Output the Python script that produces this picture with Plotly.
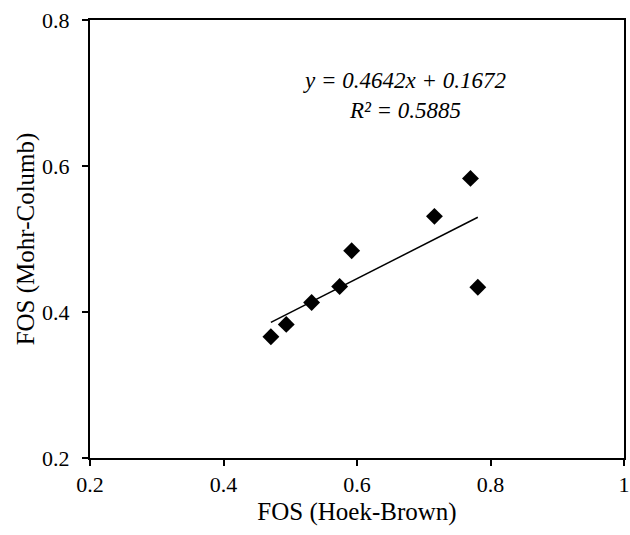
import plotly.graph_objects as go

fos_hoek_brown = [0.471, 0.494, 0.532, 0.574, 0.592, 0.716, 0.770, 0.781]
fos_mohr_columb = [0.366, 0.383, 0.413, 0.435, 0.484, 0.531, 0.583, 0.434]
slope = 0.4642
intercept = 0.1672
r_squared = 0.5885
x_ticks = [0.2, 0.4, 0.6, 0.8, 1.0]
x_tick_labels = ["0.2", "0.4", "0.6", "0.8", "1"]
y_ticks = [0.2, 0.4, 0.6, 0.8]
y_tick_labels = ["0.2", "0.4", "0.6", "0.8"]

font_family = "Liberation Serif, Times New Roman, serif"

x0, x1 = min(fos_hoek_brown), max(fos_hoek_brown)
trend_x = [x0, x1]
trend_y = [slope * v + intercept for v in trend_x]

fig = go.Figure()
fig.add_trace(go.Scatter(x=trend_x, y=trend_y, mode="lines",
                         line=dict(color="black", width=1.5), showlegend=False))
fig.add_trace(go.Scatter(x=fos_hoek_brown, y=fos_mohr_columb, mode="markers",
                         marker=dict(symbol="diamond", size=13, color="black"),
                         showlegend=False))

fig.add_annotation(x=0.671, y=0.696, xref="x", yref="y",
                   text=f"<i>y = {slope}x + {intercept}</i><br><i>R² = {r_squared}</i>",
                   showarrow=False, align="center",
                   font=dict(family=font_family, size=23, color="black"))

axis_common = dict(showgrid=False, zeroline=False, showline=True, linecolor="black",
                   linewidth=2, mirror=True, ticks="outside", ticklen=6, tickwidth=1.5,
                   tickcolor="black", ticklabeloverflow="allow", automargin=False,
                   tickfont=dict(family=font_family, size=22, color="black"))

fig.update_xaxes(range=[0.2, 1.0], tickvals=x_ticks, ticktext=x_tick_labels,
                 title=dict(text="FOS (Hoek-Brown)", font=dict(family=font_family, size=25, color="black"),
                            standoff=6),
                 **axis_common)
fig.update_yaxes(range=[0.2, 0.8], tickvals=y_ticks, ticktext=y_tick_labels,
                 ticklabelstandoff=8,
                 title=dict(text="FOS (Mohr-Columb)", font=dict(family=font_family, size=25, color="black"),
                            standoff=0),
                 **axis_common)

fig.update_layout(width=630, height=535, margin=dict(l=90, r=6, t=20, b=77),
                  plot_bgcolor="white", paper_bgcolor="white")

fig.write_html("out.html")
